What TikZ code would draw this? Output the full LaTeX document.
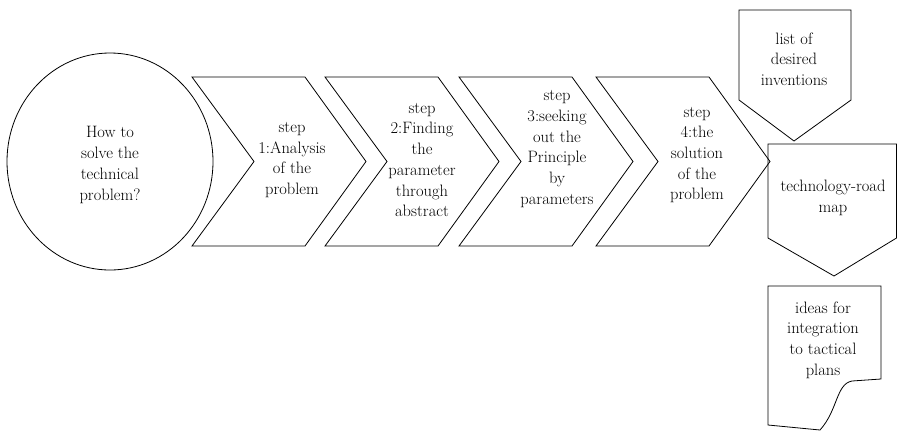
\documentclass[tikz,border=0pt]{standalone}
\begin{document}
\begin{tikzpicture}[x=1pt, y=-1pt,
    outline/.style={draw, line width=0.8pt, line join=miter},
    lbl/.style={align=center, inner sep=0pt, font=\fontsize{16.5}{20.7}\selectfont}]
  \useasboundingbox (0,0) rectangle (897,432);

  % starting question
  \draw[outline] (110,161.5) ellipse (103 and 108.5);
  \node[lbl] (question) at (110,165) {How to\\solve the\\technical\\problem?};

  % the four steps
  \foreach \x in {192,325,459,596}{
    \draw[outline] (\x,77) -- (\x+113,77) -- (\x+174,161.5) -- (\x+113,246)
      -- (\x,246) -- (\x+62,161.5) -- cycle;
  }
  \node[lbl] (step1) at (292,160) {step\\1:Analysis\\of the\\problem};
  \node[lbl] (step2) at (422,160) {step\\2:Finding\\the\\parameter\\through\\abstract};
  \node[lbl] (step3) at (557,149) {step\\3:seeking\\out the\\Principle\\by\\parameters};
  \node[lbl] (step4) at (697,155) {step\\4:the\\solution\\of the\\problem};

  % list box (points down)
  \draw[outline] (739,10) -- (851,10) -- (851,100) -- (794,141) -- (739,100) -- cycle;
  \node[lbl] (wishlist) at (794,59) {list of\\desired\\inventions};

  % road map box (points down)
  \draw[outline] (768,144) -- (896.5,144) -- (896.5,238) -- (834,276) -- (768,238) -- cycle;
  \node[lbl] (roadmap) at (833,198) {technology-road\\map};

  % ideas, document shape with curled corner
  \draw[outline] (768,286) -- (881,286) -- (881,379) -- (852,381)
    .. controls (836,384) and (838,410) .. (820,430) -- (768,425) -- cycle;
  \node[lbl] (ideas) at (823,340) {ideas for\\integration\\to tactical\\plans};
\end{tikzpicture}
\end{document}
